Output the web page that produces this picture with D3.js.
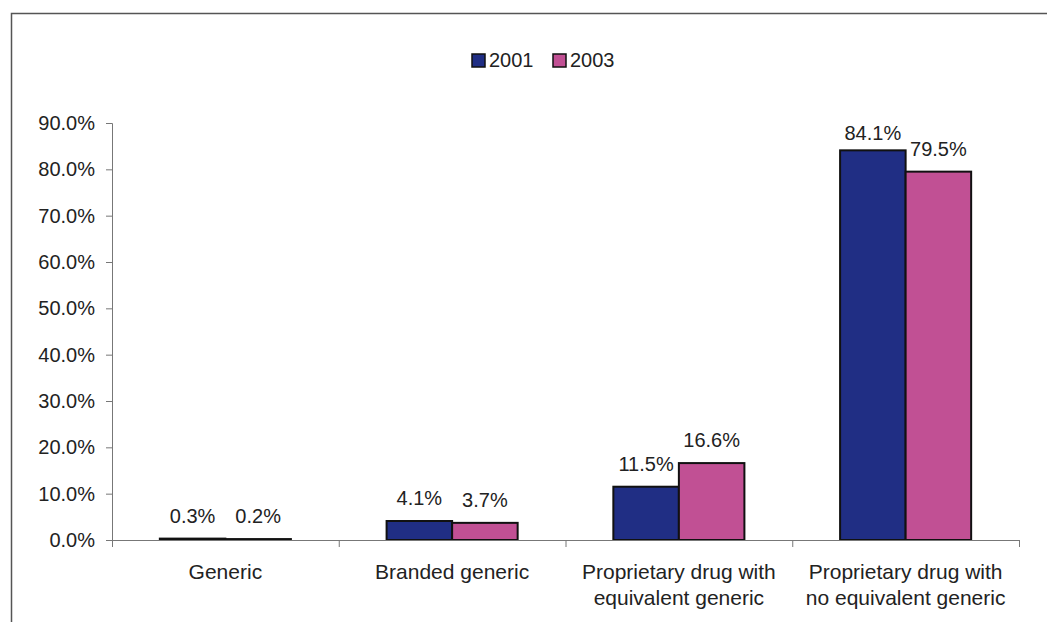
<!DOCTYPE html>
<html>
<head>
<meta charset="utf-8">
<script src="https://cdn.jsdelivr.net/npm/d3@7"></script>
<style>
  body { margin: 0; background: #fff; }
  svg { display: block; font-family: "Liberation Sans", Arial, sans-serif; }
</style>
</head>
<body>
<svg width="1047" height="622"></svg>
<script>
// chart data
const categories = [
    ["Generic"],
    ["Branded generic"],
    ["Proprietary drug with", "equivalent generic"],
    ["Proprietary drug with", "no equivalent generic"]
];
const seriesNames = ["2001", "2003"];
const values2001 = [0.003, 0.041, 0.115, 0.841];
const values2003 = [0.002, 0.037, 0.166, 0.795];
const yTicks = [0, 0.1, 0.2, 0.3, 0.4, 0.5, 0.6, 0.7, 0.8, 0.9];

const FILLS = ["#202e84", "#c15094"],
    FONT = 20;

const svg = d3.select("svg");

// outer frame, runs off the right and bottom of the picture
svg.append("rect")
    .attr("x", 11.5).attr("y", 13.5)
    .attr("width", 1100).attr("height", 700)
    .attr("fill", "none")
    .attr("stroke", "#555")
    .attr("stroke-width", 1.5);

const plot = {left: 112, right: 1019, top: 123, bottom: 540};

const x0 = d3.scaleBand()
    .domain(d3.range(categories.length))
    .range([plot.left, plot.right])
    .paddingInner(0.422)
    .paddingOuter(0.211);

const x1 = d3.scaleBand()
    .domain(seriesNames)
    .range([0, x0.bandwidth()]);

const y = d3.scaleLinear()
    .domain([0, 0.9])
    .range([plot.bottom, plot.top]);

const color = d3.scaleOrdinal(seriesNames, FILLS);

// y axis
const yAxis = svg.append("g")
    .attr("transform", `translate(${plot.left},0)`)
    .call(d3.axisLeft(y).tickValues(yTicks).tickSize(6).tickPadding(11)
        .tickFormat(d3.format(".1%")));
yAxis.selectAll("line, path").attr("stroke", "#777");
yAxis.selectAll("text")
    .attr("font-size", FONT)
    .attr("font-family", "Liberation Sans, Arial, sans-serif")
    .attr("fill", "#222");

// bars
const rows = categories.map((c, i) => [values2001[i], values2003[i]]);
const groups = svg.selectAll(".group")
    .data(rows)
    .enter()
    .append("g")
    .attr("class", "group")
    .attr("transform", (d, i) => `translate(${x0(i)},0)`);

groups.selectAll("rect")
    .data((d) => d.map((v, j) => ({name: seriesNames[j], value: v})))
    .enter()
    .append("rect")
    .attr("x", (d) => x1(d.name))
    .attr("y", (d) => y(d.value))
    .attr("width", x1.bandwidth())
    .attr("height", (d) => y(0) - y(d.value))
    .attr("fill", (d) => color(d.name))
    .attr("stroke", "#111")
    .attr("stroke-width", 2);

groups.selectAll(".label")
    .data((d) => d.map((v, j) => ({name: seriesNames[j], value: v})))
    .enter()
    .append("text")
    .attr("class", "label")
    .attr("x", (d) => x1(d.name) + x1.bandwidth() / 2)
    .attr("y", (d) => Math.max(y(d.value) - 16, plot.top + 17))
    .attr("text-anchor", "middle")
    .attr("font-size", FONT)
    .attr("fill", "#222")
    .text((d) => d3.format(".1%")(d.value));

// x axis line with ticks at category boundaries
const xAxis = svg.append("g");
xAxis.append("line")
    .attr("x1", plot.left).attr("x2", plot.right)
    .attr("y1", y(0) + 0.5).attr("y2", y(0) + 0.5)
    .attr("stroke", "#777");
xAxis.selectAll(".tick")
    .data(d3.range(categories.length + 1))
    .enter()
    .append("line")
    .attr("x1", (i) => plot.left + i * x0.step() + 0.5)
    .attr("x2", (i) => plot.left + i * x0.step() + 0.5)
    .attr("y1", y(0))
    .attr("y2", y(0) + 7)
    .attr("stroke", "#777");

xAxis.selectAll(".cat")
    .data(categories)
    .enter()
    .append("text")
    .attr("text-anchor", "middle")
    .attr("font-size", 21)
    .attr("fill", "#222")
    .attr("transform", (d, i) => `translate(${x0(i) + x0.bandwidth() / 2},579)`)
    .selectAll("tspan")
    .data((d) => d)
    .enter()
    .append("tspan")
    .attr("x", 0)
    .attr("dy", (d, i) => i ? 26 : 0)
    .text((d) => d);

// legend
const legend = svg.append("g").attr("transform", "translate(472,54)");
const item = legend.selectAll("g")
    .data(seriesNames)
    .enter()
    .append("g")
    .attr("transform", (d, i) => `translate(${i * 81},0)`);
item.append("rect")
    .attr("width", 13).attr("height", 13)
    .attr("fill", (d) => color(d))
    .attr("stroke", "#111")
    .attr("stroke-width", 1.5);
item.append("text")
    .attr("x", 17).attr("y", 13)
    .attr("font-size", FONT)
    .attr("fill", "#222")
    .text((d) => d);
</script>
</body>
</html>
